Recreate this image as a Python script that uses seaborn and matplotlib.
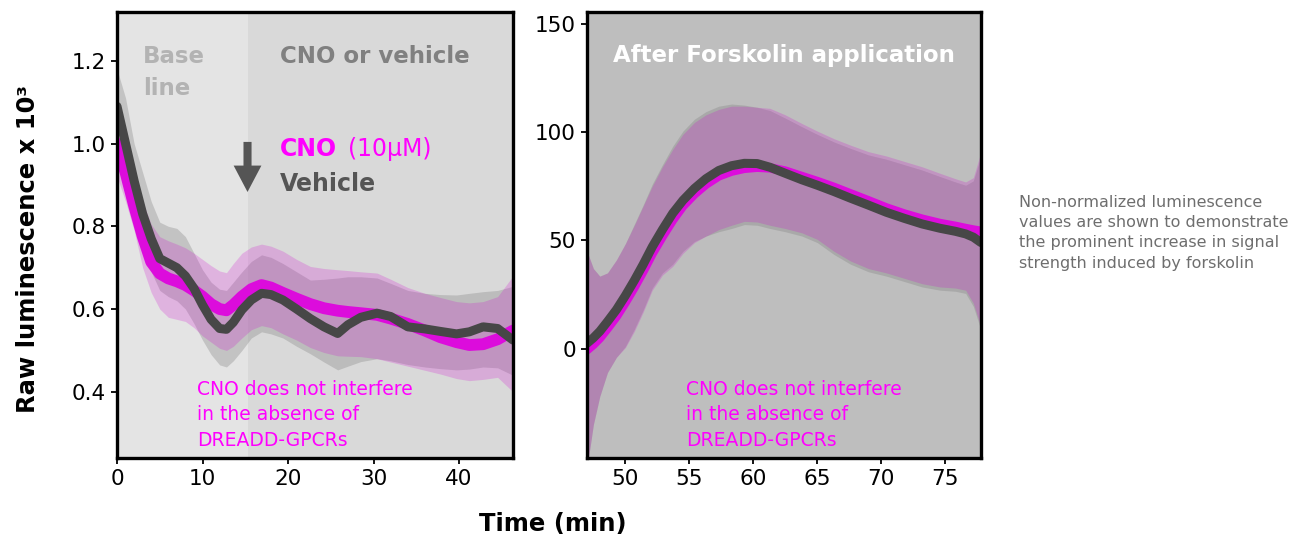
import matplotlib
matplotlib.use("Agg")
import matplotlib.pyplot as plt
import pandas as pd
import seaborn as sns

# ---------------- data ----------------
# Left panel (baseline + CNO / vehicle), raw luminescence x 10^3
t_left = [0, 1, 2, 3, 4, 5, 6, 7, 8, 9, 10, 11, 12, 12.8, 13.6, 14.6, 15.7, 16.9,
          18, 19.4, 21, 22.6, 24.2, 25.8, 27, 28.5, 30.4, 32, 34, 36, 37.8, 39.7,
          41.2, 42.8, 44.5, 46.3]
veh_left_mean = [1.09, 1.0, 0.91, 0.83, 0.77, 0.722, 0.711, 0.70, 0.68, 0.65, 0.61,
                 0.575, 0.553, 0.551, 0.568, 0.598, 0.622, 0.638, 0.635, 0.622,
                 0.60, 0.577, 0.557, 0.541, 0.562, 0.58, 0.59, 0.582, 0.557, 0.552,
                 0.546, 0.54, 0.545, 0.557, 0.553, 0.525]
veh_left_lo = [0.99, 0.92, 0.83, 0.755, 0.69, 0.645, 0.63, 0.62, 0.60, 0.565, 0.525,
               0.49, 0.465, 0.46, 0.475, 0.50, 0.53, 0.545, 0.54, 0.53, 0.51, 0.492,
               0.472, 0.453, 0.462, 0.473, 0.48, 0.475, 0.466, 0.46, 0.456, 0.453,
               0.455, 0.46, 0.458, 0.44]
veh_left_hi = [1.18, 1.11, 1.0, 0.93, 0.86, 0.81, 0.80, 0.795, 0.775, 0.735, 0.695,
               0.665, 0.648, 0.645, 0.665, 0.69, 0.715, 0.731, 0.725, 0.71, 0.69,
               0.67, 0.672, 0.675, 0.678, 0.678, 0.675, 0.662, 0.645, 0.638, 0.635,
               0.634, 0.638, 0.642, 0.645, 0.655]
cno_left_mean = [1.0, 0.93, 0.85, 0.776, 0.714, 0.686, 0.674, 0.667, 0.658, 0.645,
                 0.63, 0.612, 0.60, 0.597, 0.61, 0.63, 0.648, 0.658, 0.652, 0.639,
                 0.625, 0.612, 0.602, 0.596, 0.593, 0.59, 0.586, 0.577, 0.564,
                 0.548, 0.532, 0.52, 0.513, 0.515, 0.527, 0.548]
cno_left_lo = [0.92, 0.86, 0.79, 0.70, 0.64, 0.60, 0.58, 0.575, 0.57, 0.555, 0.535,
               0.52, 0.505, 0.50, 0.51, 0.53, 0.55, 0.56, 0.555, 0.54, 0.525, 0.507,
               0.495, 0.487, 0.486, 0.485, 0.48, 0.472, 0.462, 0.452, 0.443, 0.432,
               0.427, 0.43, 0.435, 0.40]
cno_left_hi = [1.08, 1.01, 0.93, 0.86, 0.805, 0.775, 0.765, 0.757, 0.748, 0.735,
               0.72, 0.705, 0.692, 0.688, 0.71, 0.735, 0.75, 0.757, 0.752, 0.74,
               0.72, 0.703, 0.698, 0.695, 0.693, 0.69, 0.687, 0.672, 0.652, 0.638,
               0.628, 0.618, 0.615, 0.618, 0.63, 0.68]
baseline_end = 15.3

# Right panel (after forskolin application)
t_right = [47, 47.5, 48, 48.6, 49.3, 50, 50.7, 51.4, 52.1, 52.9, 53.7, 54.5, 55.4,
           56.3, 57.3, 58.3, 59.3, 60.3, 61.3, 62.5, 63.8, 65, 66.3, 67.6, 69, 70.4,
           71.8, 73.2, 74.6, 75.8, 76.6, 77.2, 77.8]
veh_right_mean = [2.5, 5, 8, 12.5, 18, 24.5, 31.5, 39, 47, 55, 62.5, 68.5, 74, 78.5,
                  82.3, 84.5, 85.6, 85.5, 83.8, 81, 78, 75.5, 72.6, 69.5, 66.3, 63,
                  60.2, 57.6, 55.6, 54.2, 53, 51.5, 49]
veh_right_lo = [-55, -35, -22, -11, -4, 1, 9, 18, 28, 35, 39, 45, 49.5, 52, 54,
                55.5, 57.3, 57, 55.5, 54, 52, 49, 43.5, 39, 35.5, 33.5, 31, 28.5, 27,
                26.5, 25.5, 19.5, 8.5]
veh_right_hi = [45, 37, 33.5, 35, 41, 48.5, 57.5, 66.5, 76, 85, 93.5, 100.5, 106,
                109.5, 112, 113, 112.5, 111.5, 110, 106.5, 102.5, 99, 95.5, 92.5,
                89.5, 87.5, 85, 82.5, 79.5, 77, 75.5, 77.5, 89]
cno_right_mean = [-0.5, 2, 5, 9.5, 15, 21.5, 28.5, 36, 44, 52, 59.5, 66, 71.5, 76,
                  79.8, 82, 83.3, 83.8, 83.5, 82, 79.5, 77.2, 74.5, 71.5, 68.3, 65,
                  62.2, 59.8, 57.8, 56.5, 55.5, 54.8, 54.2]
cno_right_lo = [-55, -35, -22, -11, -4, 0.5, 8, 17, 27, 34, 38, 44, 49, 52, 55, 57,
                58.8, 58.5, 57, 55.5, 53.5, 50.5, 45, 40.5, 37, 35, 32.5, 30, 28.5,
                28, 27, 21, 10]
cno_right_hi = [45, 37, 33.5, 35, 41, 48.5, 57, 66, 75, 84, 92, 99, 104.5, 108,
                110.5, 112, 112, 111.5, 111, 108, 104, 100.5, 97, 94, 91, 89, 86.5,
                84, 81, 78.5, 77, 79, 91]

left_xticks = [0, 10, 20, 30, 40]
left_yticks = [0.4, 0.6, 0.8, 1.0, 1.2]
right_xticks = [50, 55, 60, 65, 70, 75]
right_yticks = [0, 50, 100, 150]

# ---------------- style ----------------
sns.set_style("ticks")
plt.rcParams["font.family"] = ["DejaVu Sans"]
plt.rcParams["text.color"] = "black"

MAG_LINE = "#dc0cdc"
MAG_TEXT = "#ff00ff"
MAG_BAND = "#d000d0"
VEH_LINE = "#474747"
VEH_BAND = "#7f7f7f"

W, H = 1294, 539
fig = plt.figure(figsize=(W / 100, H / 100), dpi=100)


def box(l, t, r, b):
    return [l / W, 1 - b / H, (r - l) / W, (b - t) / H]


ax1 = fig.add_axes(box(117, 12, 513, 458))
ax2 = fig.add_axes(box(587, 12, 981, 458))


def draw_panel(ax, t, vm, vlo, vhi, cm, clo, chi, mag_lw, veh_lw):
    ax.fill_between(t, vlo, vhi, color=VEH_BAND, alpha=0.32, linewidth=0, zorder=2)
    ax.fill_between(t, clo, chi, color=MAG_BAND, alpha=0.21, linewidth=0, zorder=3)
    df_c = pd.DataFrame({"time": t, "value": cm})
    df_v = pd.DataFrame({"time": t, "value": vm})
    sns.lineplot(data=df_c, x="time", y="value", ax=ax, color=MAG_LINE,
                 linewidth=mag_lw, zorder=4, legend=False)
    sns.lineplot(data=df_v, x="time", y="value", ax=ax, color=VEH_LINE,
                 linewidth=veh_lw, zorder=5, legend=False)


# left panel
ax1.set_facecolor("#d9d9d9")
ax1.axvspan(0, baseline_end, color="#e4e4e4", linewidth=0, zorder=0)
draw_panel(ax1, t_left, veh_left_mean, veh_left_lo, veh_left_hi,
           cno_left_mean, cno_left_lo, cno_left_hi, 8.5, 6.5)
ax1.set_xlim(0, 46.3)
ax1.set_ylim(0.24, 1.318)
ax1.set_xticks(left_xticks)
ax1.set_yticks(left_yticks)
ax1.set_yticklabels([f"{v:.1f}" for v in left_yticks])

# right panel
ax2.set_facecolor("#bebebe")
draw_panel(ax2, t_right, veh_right_mean, veh_right_lo, veh_right_hi,
           cno_right_mean, cno_right_lo, cno_right_hi, 6.8, 6.5)
ax2.set_xlim(47.0, 77.8)
ax2.set_ylim(-50.5, 155.5)
ax2.set_xticks(right_xticks)
ax2.set_yticks(right_yticks)

for ax in (ax1, ax2):
    ax.set_xlabel("")
    ax.set_ylabel("")
    for s in ax.spines.values():
        s.set_linewidth(2.4)
        s.set_color("black")
        s.set_zorder(10)
    ax.tick_params(axis="both", length=4, width=1.3, labelsize=15.5, pad=4,
                   colors="black")

# arrow
ax1.annotate("", xy=(15.26, 0.883), xytext=(15.26, 1.004),
             arrowprops=dict(facecolor="#555555", edgecolor="none", width=5.8,
                             headwidth=20, headlength=19, shrink=0), zorder=6)


def ftext(px, py, s, **kw):
    kw.setdefault("va", "baseline")
    return fig.text(px / W, 1 - py / H, s, **kw)


# left panel texts
ftext(143, 62.7, "Base", color="#b3b3b3", fontsize=16.5, fontweight="bold")
ftext(143, 95, "line", color="#b3b3b3", fontsize=16.5, fontweight="bold")
ftext(280, 62.7, "CNO or vehicle", color="#808080", fontsize=16.5, fontweight="bold")
ftext(280, 155.7, "CNO", color=MAG_TEXT, fontsize=17, fontweight="bold")
ftext(348.3, 155.7, "(10µM)", color=MAG_TEXT, fontsize=17)
ftext(280, 190.7, "Vehicle", color="#555555", fontsize=17, fontweight="bold")

note_lines = ["CNO does not interfere", "in the absence of", "DREADD-GPCRs"]
for x0 in (197, 686):
    for i, line in enumerate(note_lines):
        ftext(x0, 395 + 25.3 * i, line, color=MAG_TEXT, fontsize=13.5)

# right panel title
ftext(784, 61.7, "After Forskolin application", color="white", fontsize=16.5,
      fontweight="bold", ha="center")

# side note
side_lines = ["Non-normalized luminescence", "values are shown to demonstrate",
              "the prominent increase in signal", "strength induced by forskolin"]
for i, line in enumerate(side_lines):
    ftext(1019, 206.7 + 20.3 * i, line, color="#6e6e6e", fontsize=11.5)

# axis labels
fig.text(28 / W, 1 - 249 / H, "Raw luminescence x 10³", rotation=90,
         ha="center", va="center", fontsize=17.5, fontweight="bold", color="black")
ftext(553, 531, "Time (min)", ha="center", fontsize=17.5, fontweight="bold",
      color="black")

fig.savefig("out.png", dpi=100)
